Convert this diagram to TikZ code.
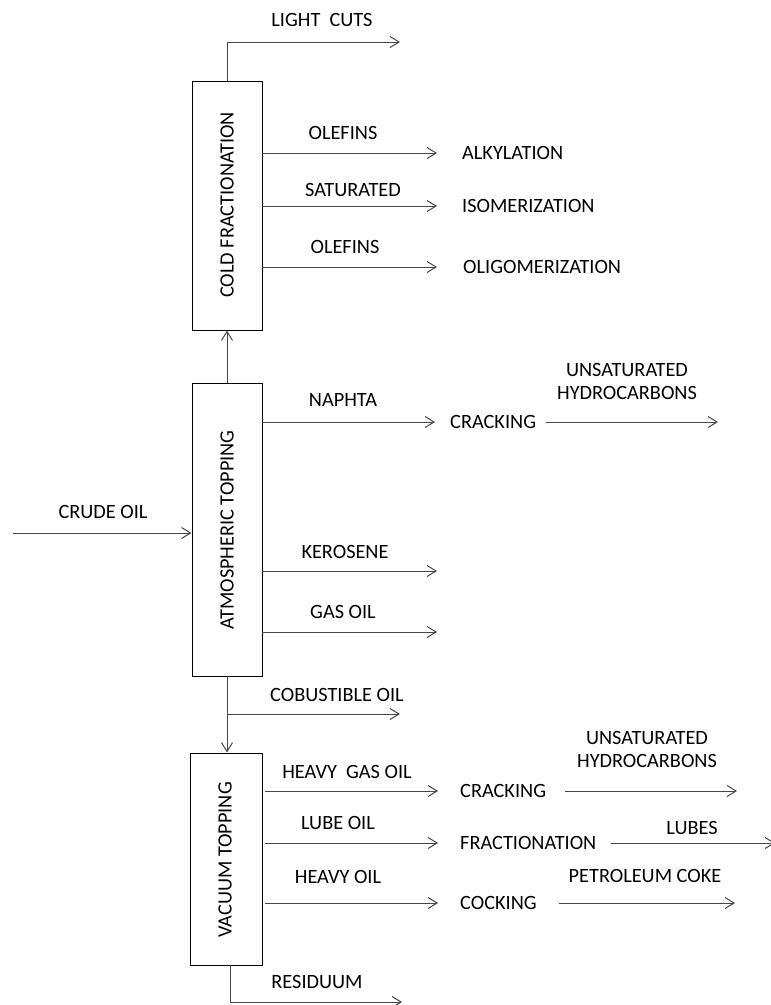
\documentclass[tikz,border=0pt]{standalone}
\usepackage{fontspec}
\setmainfont{Carlito}
\usetikzlibrary{arrows.meta}
\begin{document}
\begin{tikzpicture}[x=1pt,y=-1pt,
  font=\fontsize{20.3}{23}\selectfont,
  box/.style={draw=black, line width=0.9pt, minimum width=70pt, inner sep=0pt},
  flow/.style={draw=black!72, line width=1pt, -{Straight Barb[length=9pt,width=11pt,line width=1pt]}},
  lbl/.style={inner sep=0pt, text=black},
  dst/.style={inner sep=0pt, anchor=west, text=black},
  vtxt/.style={inner sep=0pt, rotate=90, text=black}]
\useasboundingbox (0,0) rectangle (771,1005);

% columns
\node[box, minimum height=249pt] (cold) at (227,205.5) {};
\node[box, minimum height=293pt] (atm) at (227,529.5) {};
\node[box, minimum width=72pt, minimum height=212pt] (vac) at (226,859) {};
\node[vtxt] (coldtxt) at (227,205) {COLD FRACTIONATION};
\node[vtxt] (atmtxt) at (227,530) {ATMOSPHERIC TOPPING};
\node[vtxt] (vactxt) at (225,860) {VACUUM TOPPING};

% cold fractionation outputs
\coordinate (lc) at (400,42);
\node[lbl] (lclbl) at (322,20) {LIGHT~~CUTS};
\draw[flow] (cold.north) |- (lc);

\node[dst] (alk) at (462,153) {ALKYLATION};
\node[dst] (iso) at (462,206) {ISOMERIZATION};
\node[dst] (oli) at (463,267) {OLIGOMERIZATION};
\node[lbl] (ol1) at (343,133) {OLEFINS};
\node[lbl] (sat) at (353,190) {SATURATED};
\node[lbl] (ol2) at (345,247) {OLEFINS};
\draw[flow] (cold.east |- alk.west) -- ([xshift=-25pt]alk.west);
\draw[flow] (cold.east |- iso.west) -- ([xshift=-25pt]iso.west);
\draw[flow] (cold.east |- oli.west) -- ([xshift=-26pt]oli.west);

% atmospheric topping
\draw[flow] (atm.north) -- (cold.south);

\coordinate (crude) at (13,533);
\node[lbl] (crudelbl) at (103,512) {CRUDE OIL};
\draw[flow] (crude) -- (crude -| atm.west);

\node[lbl] (naph) at (343,400) {NAPHTA};
\node[dst] (crk1) at (450,422) {CRACKING};
\draw[flow] (atm.east |- crk1.west) -- ([xshift=-15pt]crk1.west);
\coordinate (uh1) at (718,422);
\node[lbl] (uh1a) at (627,370) {UNSATURATED};
\node[lbl] (uh1b) at (627,393) {HYDROCARBONS};
\draw[flow] ([xshift=10pt]crk1.east) -- (uh1);

\node[lbl] (kero) at (345,552) {KEROSENE};
\coordinate (keroend) at (437,571);
\draw[flow] (atm.east |- keroend) -- (keroend);
\node[lbl] (gas) at (343,612) {GAS OIL};
\coordinate (gasend) at (437,632);
\draw[flow] (atm.east |- gasend) -- (gasend);

% atmospheric -> vacuum
\draw[flow] (atm.south) -- (atm.south |- vac.north);
\coordinate (cj) at (227,714);
\coordinate (cob) at (400,714);
\node[lbl] (coblbl) at (337,695) {COBUSTIBLE OIL};
\draw[flow] (cj) -- (cob);

% vacuum topping outputs
\node[lbl] (hgo) at (347,772) {HEAVY~~GAS OIL};
\node[dst] (crk2) at (460,791) {CRACKING};
\draw[flow] ([xshift=3pt]vac.east |- crk2.west) -- ([xshift=-22pt]crk2.west);
\coordinate (uh2) at (737,791);
\node[lbl] (uh2a) at (647,738) {UNSATURATED};
\node[lbl] (uh2b) at (647,761) {HYDROCARBONS};
\draw[flow] ([xshift=19pt]crk2.east) -- (uh2);

\node[lbl] (lube) at (338,823) {LUBE OIL};
\node[dst] (frac) at (460,843) {FRACTIONATION};
\draw[flow] ([xshift=3pt]vac.east |- frac.west) -- ([xshift=-22pt]frac.west);
\coordinate (lubes) at (775,843);
\node[lbl] (lubeslbl) at (692,828) {LUBES};
\draw[flow] ([xshift=14pt]frac.east) -- (lubes);

\node[lbl] (hoil) at (338,877) {HEAVY OIL};
\node[dst] (cock) at (460,903) {COCKING};
\draw[flow] ([xshift=3pt]vac.east |- cock.west) -- ([xshift=-22pt]cock.west);
\coordinate (coke) at (735,903);
\node[lbl] (cokelbl) at (645,876) {PETROLEUM COKE};
\draw[flow] ([xshift=22pt]cock.east) -- (coke);

\coordinate (res) at (402,1002);
\node[lbl] (reslbl) at (317,982) {RESIDUUM};
\draw[flow] ([xshift=4pt]vac.south) |- (res);
\end{tikzpicture}
\end{document}
